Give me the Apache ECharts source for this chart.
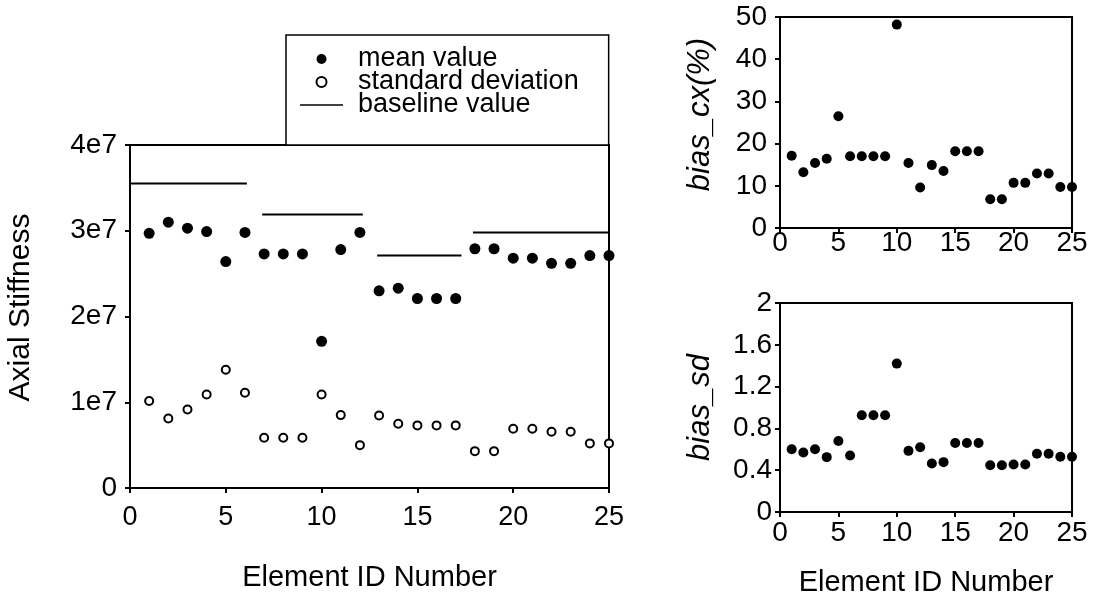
<!DOCTYPE html>
<html>
<head>
<meta charset="utf-8">
<script src="https://cdn.jsdelivr.net/npm/echarts@6/dist/echarts.min.js"></script>
<style>
html,body{margin:0;padding:0;background:#fff;}
#chart{width:1093px;height:604px;}
</style>
</head>
<body>
<div id="chart"></div>
<script>
const elementIds = [1,2,3,4,5,6,7,8,9,10,11,12,13,14,15,16,17,18,19,20,21,22,23,24,25];
const meanValue = [2.97e7,3.10e7,3.03e7,2.99e7,2.64e7,2.98e7,2.73e7,2.73e7,2.73e7,1.71e7,2.78e7,2.98e7,2.30e7,2.33e7,2.21e7,2.21e7,2.21e7,2.79e7,2.79e7,2.68e7,2.68e7,2.62e7,2.62e7,2.71e7,2.71e7];
const stdDeviation = [1.015e7,0.81e7,0.915e7,1.09e7,1.38e7,1.11e7,0.585e7,0.585e7,0.585e7,1.09e7,0.85e7,0.50e7,0.845e7,0.75e7,0.73e7,0.73e7,0.73e7,0.43e7,0.43e7,0.69e7,0.69e7,0.655e7,0.655e7,0.52e7,0.52e7];
const baselineStart = [0, 6.9, 12.9, 17.9];
const baselineEnd = [6.1, 12.15, 17.3, 25];
const baselineValue = [3.55e7, 3.19e7, 2.71e7, 2.98e7];
const biasCx = [17.1,13.2,15.4,16.4,26.5,17.0,17.0,17.0,17.0,48.2,15.4,9.6,14.9,13.5,18.2,18.2,18.2,6.8,6.8,10.7,10.7,12.9,12.9,9.7,9.7];
const biasSd = [0.60,0.57,0.60,0.525,0.68,0.54,0.925,0.925,0.925,1.42,0.585,0.62,0.464,0.477,0.66,0.66,0.66,0.448,0.448,0.454,0.454,0.557,0.557,0.528,0.528];
const xTickLabels = ['0','5','10','15','20','25'];
const yTickLabelsLeft = ['0','1e7','2e7','3e7','4e7'];
const yTickLabelsCx = ['0','10','20','30','40','50'];
const yTickLabelsSd = ['0','0.4','0.8','1.2','1.6','2'];

const FONT = 'Liberation Sans';
const pairs = (arr) => elementIds.map((id, i) => [id, arr[i]]);

const axisLine = {show: true, lineStyle: {color: '#000', width: 2}};
const axisTickStyle = {show: true, length: 5, lineStyle: {color: '#000', width: 2}};

function xAxisDef(gridIndex, fontSize, margin, name, nameGap) {
  return {
    type: 'value', gridIndex, min: 0, max: 25, interval: 5,
    axisLine, axisTick: axisTickStyle, splitLine: {show: false},
    axisLabel: {color: '#000', fontFamily: FONT, fontSize, margin,
      formatter: (v) => xTickLabels[Math.round(v / 5)]},
    name, nameLocation: 'middle', nameGap,
    nameTextStyle: {color: '#000', fontFamily: FONT, fontSize: 29}
  };
}

const option = {
  backgroundColor: '#fff',
  animation: false,
  grid: [
    {left: 130, top: 145, width: 479, height: 343, show: true, borderColor: '#000', borderWidth: 2, containLabel: false},
    {left: 780, top: 17, width: 292, height: 211, show: true, borderColor: '#000', borderWidth: 2, containLabel: false},
    {left: 780, top: 303, width: 292, height: 209, show: true, borderColor: '#000', borderWidth: 2, containLabel: false}
  ],
  legend: {
    orient: 'vertical',
    left: 286, top: 35,
    padding: [10.5, 30, 26.5, 14],
    borderColor: '#000', borderWidth: 1.5,
    backgroundColor: '#fff',
    itemWidth: 43, itemHeight: 10, itemGap: -4,
    textStyle: {color: '#000', fontFamily: FONT, fontSize: 27, padding: [0, 0, 0, 10]},
    data: [
      {name: 'mean value', icon: 'circle'},
      {name: 'standard deviation', icon: 'emptyCircle'},
      {name: 'baseline value', icon: 'path://M0,0 L0,0 M0,4.2 L43,4.2 L43,5.8 L0,5.8 Z M43,10 L43,10'}
    ],
    selectedMode: false
  },
  xAxis: [
    xAxisDef(0, 27, 16, 'Element ID Number', 75),
    xAxisDef(1, 28, 1, '', 0),
    xAxisDef(2, 28, 7, 'Element ID Number', 56)
  ],
  yAxis: [
    {type: 'value', gridIndex: 0, min: 0, max: 4e7, interval: 1e7,
      axisLine, axisTick: axisTickStyle, splitLine: {show: false},
      axisLabel: {color: '#000', fontFamily: FONT, fontSize: 28, margin: 13,
        formatter: (v) => yTickLabelsLeft[Math.round(v / 1e7)]},
      name: 'Axial Stiffness', nameLocation: 'middle', nameGap: 94,
      nameTextStyle: {color: '#000', fontFamily: FONT, fontSize: 30, padding: [0, 0, 0, 18]}},
    {type: 'value', gridIndex: 1, min: 0, max: 50, interval: 10,
      axisLine, axisTick: axisTickStyle, splitLine: {show: false},
      axisLabel: {color: '#000', fontFamily: FONT, fontSize: 28, margin: 13,
        formatter: (v) => yTickLabelsCx[Math.round(v / 10)]},
      name: 'bias_cx(%)', nameLocation: 'middle', nameGap: 64,
      nameTextStyle: {color: '#000', fontFamily: FONT, fontSize: 31, fontStyle: 'italic', padding: [0, 0, 0, 16]}},
    {type: 'value', gridIndex: 2, min: 0, max: 2, interval: 0.4,
      axisLine, axisTick: axisTickStyle, splitLine: {show: false},
      axisLabel: {color: '#000', fontFamily: FONT, fontSize: 28, margin: 8,
        formatter: (v) => yTickLabelsSd[Math.round(v / 0.4)]},
      name: 'bias_sd', nameLocation: 'middle', nameGap: 64,
      nameTextStyle: {color: '#000', fontFamily: FONT, fontSize: 31, fontStyle: 'italic'}}
  ],
  series: [
    {name: 'mean value', type: 'scatter', xAxisIndex: 0, yAxisIndex: 0,
      symbol: 'circle', symbolSize: 11, itemStyle: {color: '#000', opacity: 1},
      data: pairs(meanValue)},
    {name: 'standard deviation', type: 'scatter', xAxisIndex: 0, yAxisIndex: 0,
      symbol: 'emptyCircle', symbolSize: 8,
      itemStyle: {color: '#000', borderColor: '#000', borderWidth: 2, opacity: 1},
      data: pairs(stdDeviation)},
    ...baselineValue.map((v, i) => ({
      name: 'baseline value', type: 'line', xAxisIndex: 0, yAxisIndex: 0,
      symbol: 'none', lineStyle: {color: '#000', width: 2}, itemStyle: {color: '#000'},
      data: [[baselineStart[i], v], [baselineEnd[i], v]]
    })),
    {name: 'bias_cx', type: 'scatter', xAxisIndex: 1, yAxisIndex: 1,
      symbol: 'circle', symbolSize: 10, itemStyle: {color: '#000', opacity: 1},
      data: pairs(biasCx)},
    {name: 'bias_sd', type: 'scatter', xAxisIndex: 2, yAxisIndex: 2,
      symbol: 'circle', symbolSize: 10, itemStyle: {color: '#000', opacity: 1},
      data: pairs(biasSd)}
  ]
};

const chart = echarts.init(document.getElementById('chart'), null, {renderer: 'canvas'});
chart.setOption(option);
</script>
</body>
</html>
